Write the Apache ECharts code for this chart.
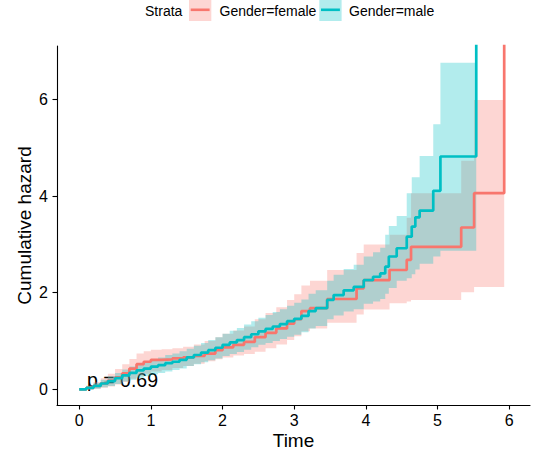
<!DOCTYPE html>
<html>
<head>
<meta charset="utf-8">
<script src="https://cdn.jsdelivr.net/npm/echarts@6/dist/echarts.min.js"></script>
<style>
  html, body { margin: 0; padding: 0; background: #fff; }
  #chart { width: 534px; height: 456px; }
</style>
</head>
<body>
<div id="chart"></div>
<script>
// Cumulative hazard (Nelson-Aalen style step curves) by gender, with confidence bands.

const xTicks = [0, 1, 2, 3, 4, 5, 6];
const yTicks = [0, 2, 4, 6];
const strataNames = ['Gender=female', 'Gender=male'];
const pValueText = 'p = 0.69';

// Female stratum: event times, cumulative hazard, lower / upper band
const femaleTime   = [0, 0.1, 0.2, 0.3, 0.4, 0.5, 0.6, 0.7, 0.8, 0.9, 1.0, 1.15, 1.3, 1.45, 1.6, 1.75, 1.9, 2.0, 2.15, 2.3, 2.45, 2.6, 2.75, 2.9, 3.0, 3.1, 3.22, 3.46, 3.87, 3.97, 4.33, 4.57, 4.63, 5.33, 5.51, 5.93];
const femaleHazard = [0, 0.03, 0.07, 0.12, 0.18, 0.25, 0.33, 0.43, 0.52, 0.57, 0.61, 0.62, 0.64, 0.66, 0.69, 0.74, 0.81, 0.87, 0.92, 0.98, 1.08, 1.17, 1.26, 1.36, 1.45, 1.62, 1.68, 1.87, 2.09, 2.26, 2.47, 2.68, 2.95, 3.35, 4.06, Infinity];
const femaleLower  = [0, 0.00, 0.01, 0.03, 0.06, 0.10, 0.15, 0.22, 0.28, 0.32, 0.37, 0.40, 0.44, 0.48, 0.53, 0.58, 0.62, 0.66, 0.70, 0.73, 0.78, 0.85, 0.93, 1.02, 1.10, 1.20, 1.26, 1.38, 1.55, 1.65, 1.78, 1.82, 1.85, 2.01, 2.12, null];
const femaleUpper  = [0, 0.08, 0.15, 0.23, 0.32, 0.42, 0.52, 0.63, 0.74, 0.79, 0.82, 0.83, 0.85, 0.88, 0.93, 1.00, 1.08, 1.15, 1.22, 1.30, 1.45, 1.58, 1.70, 1.85, 1.97, 2.15, 2.25, 2.47, 2.82, 3.00, 3.20, 3.55, 4.06, 4.73, 5.99, null];

// Male stratum
const maleTime   = [0, 0.1, 0.2, 0.3, 0.4, 0.5, 0.6, 0.7, 0.8, 0.9, 1.0, 1.1, 1.2, 1.3, 1.4, 1.5, 1.6, 1.7, 1.8, 1.9, 2.0, 2.1, 2.2, 2.3, 2.4, 2.5, 2.6, 2.7, 2.8, 2.9, 3.0, 3.1, 3.2, 3.3, 3.46, 3.55, 3.69, 3.83, 3.97, 4.1, 4.2, 4.27, 4.32, 4.43, 4.57, 4.64, 4.69, 4.75, 4.94, 5.04, 5.54];
const maleHazard = [0, 0.03, 0.07, 0.12, 0.17, 0.23, 0.29, 0.34, 0.39, 0.43, 0.47, 0.50, 0.54, 0.57, 0.61, 0.66, 0.71, 0.76, 0.81, 0.86, 0.92, 0.97, 1.02, 1.08, 1.14, 1.20, 1.25, 1.30, 1.35, 1.41, 1.46, 1.52, 1.62, 1.68, 1.85, 1.95, 2.05, 2.12, 2.26, 2.33, 2.40, 2.54, 2.75, 2.92, 3.16, 3.37, 3.56, 3.70, 4.11, 4.82, Infinity];
const maleLower  = [0, 0.00, 0.01, 0.04, 0.07, 0.11, 0.16, 0.20, 0.24, 0.27, 0.31, 0.34, 0.37, 0.40, 0.43, 0.48, 0.52, 0.56, 0.60, 0.64, 0.69, 0.73, 0.77, 0.82, 0.87, 0.92, 0.96, 1.00, 1.04, 1.09, 1.13, 1.18, 1.26, 1.31, 1.45, 1.53, 1.61, 1.66, 1.77, 1.82, 1.87, 1.98, 2.10, 2.25, 2.30, 2.38, 2.48, 2.60, 2.75, 2.87, null];
const maleUpper  = [0, 0.07, 0.13, 0.20, 0.27, 0.34, 0.41, 0.47, 0.53, 0.58, 0.63, 0.66, 0.71, 0.74, 0.79, 0.84, 0.90, 0.96, 1.02, 1.08, 1.15, 1.21, 1.27, 1.34, 1.41, 1.48, 1.54, 1.60, 1.66, 1.73, 1.79, 1.86, 1.98, 2.05, 2.25, 2.37, 2.49, 2.58, 2.75, 2.84, 2.93, 3.20, 3.38, 3.59, 4.06, 4.39, 4.39, 4.83, 5.49, 6.76, null];

const FEMALE_COLOR = '#F8766D';
const MALE_COLOR = '#00BFC4';
const FEMALE_FILL = 'rgba(248,118,109,0.3)';
const MALE_FILL = 'rgba(0,191,196,0.3)';
const FONT = '"Liberation Sans", Arial, Helvetica, sans-serif';

const X_MIN = -0.31, X_MAX = 6.29;
const Y_MIN = -0.325, Y_MAX = 7.108;

// A hazard of Infinity (everyone at risk has had the event) runs off the top of the panel.
function stepLine(name, times, hazard, color) {
  return {
    type: 'line',
    name: name,
    step: 'end',
    showSymbol: false,
    symbol: 'none',
    clip: true,
    silent: true,
    lineStyle: { color: color, width: 2.7 },
    data: times.map((t, i) => [t, Number.isFinite(hazard[i]) ? hazard[i] : Y_MAX + 1])
  };
}

// Confidence band drawn as one stepped polygon through the axis scales.
function stepBand(name, times, lower, upper, fill) {
  const rows = times.map((t, i) => [t, lower[i], upper[i]]);
  return {
    type: 'custom',
    name: name,
    silent: true,
    data: rows,
    encode: { x: 0, y: [1, 2] },
    renderItem: function (params, api) {
      if (params.dataIndex !== 0) return null;
      const top = [];
      const bottom = [];
      for (let i = 0; i < rows.length - 1; i++) {
        const lo = rows[i][1], hi = rows[i][2];
        if (lo == null || hi == null) continue;
        const t0 = rows[i][0], t1 = rows[i + 1][0];
        top.push(api.coord([t0, hi]), api.coord([t1, hi]));
        bottom.push(api.coord([t0, lo]), api.coord([t1, lo]));
      }
      return {
        type: 'polygon',
        shape: { points: top.concat(bottom.reverse()) },
        style: { fill: fill, stroke: null }
      };
    }
  };
}

const chart = echarts.init(document.getElementById('chart'), null, { renderer: 'svg' });

const axisCommon = {
  axisLine: { show: true, onZero: false, lineStyle: { color: '#000', width: 1.1 } },
  axisTick: { show: true, inside: false, length: 4.5, lineStyle: { color: '#000', width: 1.1 } },
  splitLine: { show: false },
  nameMoveOverlap: false,
  nameTextStyle: { color: '#000', fontSize: 19, fontFamily: FONT }
};

chart.setOption({
  animation: false,
  backgroundColor: '#fff',
  grid: { left: 57, right: 4, top: 46, bottom: 51, containLabel: false },
  xAxis: Object.assign({}, axisCommon, {
    type: 'value',
    min: X_MIN,
    max: X_MAX,
    name: 'Time',
    nameLocation: 'middle',
    nameGap: 26,
    axisTick: Object.assign({}, axisCommon.axisTick, { customValues: xTicks }),
    axisLabel: { customValues: xTicks, color: '#000', fontSize: 16, fontFamily: FONT, margin: 7 }
  }),
  yAxis: Object.assign({}, axisCommon, {
    type: 'value',
    min: Y_MIN,
    max: Y_MAX,
    name: 'Cumulative hazard',
    nameLocation: 'middle',
    nameGap: 23,
    axisTick: Object.assign({}, axisCommon.axisTick, { customValues: yTicks }),
    axisLabel: { customValues: yTicks, color: '#000', fontSize: 16, fontFamily: FONT, margin: 9 }
  }),
  series: [
    stepLine(strataNames[0], femaleTime, femaleHazard, FEMALE_COLOR),
    stepLine(strataNames[1], maleTime, maleHazard, MALE_COLOR),
    stepBand(strataNames[0] + ' band', femaleTime, femaleLower, femaleUpper, FEMALE_FILL),
    stepBand(strataNames[1] + ' band', maleTime, maleLower, maleUpper, MALE_FILL)
  ],
  graphic: [
    {
      type: 'text', left: 87, top: 370, silent: true,
      style: { text: pValueText, fill: '#000', font: '19.5px ' + FONT }
    },
    {
      type: 'group', left: 145, top: 0, silent: true,
      children: [
        { type: 'text', x: 0, y: 9.5, style: { text: 'Strata', fill: '#000', font: '14px ' + FONT, verticalAlign: 'middle' } },
        { type: 'rect', shape: { x: 44, y: -1, width: 22.3, height: 21 }, style: { fill: FEMALE_FILL } },
        { type: 'line', shape: { x1: 45.7, y1: 8.8, x2: 64.6, y2: 8.8 }, style: { stroke: FEMALE_COLOR, lineWidth: 2.6 } },
        { type: 'text', x: 74.5, y: 9.5, style: { text: strataNames[0], fill: '#000', font: '14px ' + FONT, verticalAlign: 'middle' } },
        { type: 'rect', shape: { x: 174.3, y: -1, width: 22.3, height: 21 }, style: { fill: MALE_FILL } },
        { type: 'line', shape: { x1: 176, y1: 8.8, x2: 194.9, y2: 8.8 }, style: { stroke: MALE_COLOR, lineWidth: 2.6 } },
        { type: 'text', x: 204, y: 9.5, style: { text: strataNames[1], fill: '#000', font: '14px ' + FONT, verticalAlign: 'middle' } }
      ]
    }
  ]
});
</script>
</body>
</html>
